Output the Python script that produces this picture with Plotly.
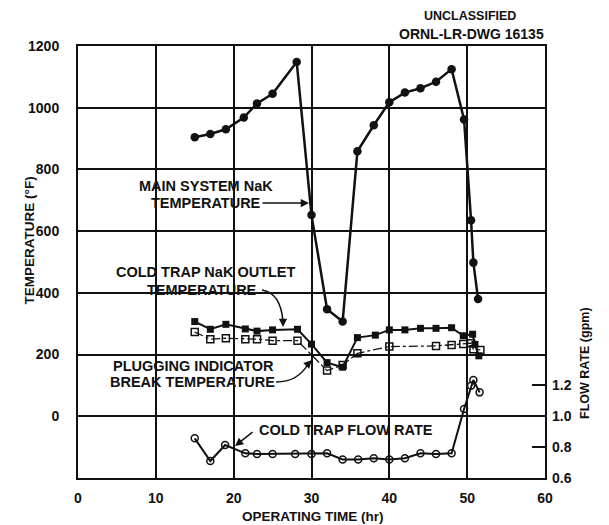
import plotly.graph_objects as go

# ---------------- data ----------------
main_t = [15, 17, 19, 21.3, 23, 25, 28.1, 30, 32, 34, 35.9, 38, 40, 42, 44, 46, 48, 49.6, 50.5, 50.8, 51.4]
main_T = [904, 915, 930, 968, 1014, 1045, 1148, 652, 347, 307, 859, 943, 1018, 1049, 1063, 1084, 1125, 962, 635, 498, 380]

outlet_t = [15, 17, 19, 21.5, 23, 25, 28.2, 30, 32, 34, 35.9, 38.2, 40, 42, 44, 46, 48, 49.5, 50.7, 51.0, 51.5]
outlet_T = [307, 282, 298, 283, 276, 280, 282, 234, 174, 159, 255, 263, 280, 280, 285, 285, 287, 261, 266, 233, 196]

plug_t = [15, 17, 19, 21.5, 23, 25, 28.2, 32, 34, 35.9, 40, 46, 48, 49.5, 50.5, 50.8, 51.7]
plug_T = [273, 250, 253, 250, 250, 245, 245, 148, 166, 204, 226, 228, 231, 234, 237, 217, 215]

flow_t = [15, 17, 18.9, 21.5, 23, 25, 27.9, 30, 32, 34, 36, 38, 40, 42, 44, 46, 48, 49.6, 50.5, 50.8, 51.6]
flow_gpm = [0.857, 0.71, 0.814, 0.76, 0.756, 0.756, 0.756, 0.756, 0.76, 0.72, 0.72, 0.728, 0.72, 0.728, 0.76, 0.756, 0.76, 1.047, 1.198, 1.235, 1.155]

x_ticks = [0, 10, 20, 30, 40, 50, 60]
y_ticks = [0, 200, 400, 600, 800, 1000, 1200]
y2_ticks = [0.6, 0.8, 1.0, 1.2]

# ---------------- layout geometry ----------------
W, H = 609, 525
L, R, T, B = 78, 545, 46, 478
XMIN, XMAX = 0, 60
YMIN, YMAX = -200, 1200


def dx(px):
    return XMIN + (px - L) / (R - L) * (XMAX - XMIN)


def dy(py):
    return YMIN + (B - py) / (B - T) * (YMAX - YMIN)


def fx(px):
    return (px - L) / (R - L)


def fy(py):
    return (B - py) / (B - T)


INK = "#111111"
FONT = "Liberation Sans"

fig = go.Figure()

fig.add_trace(go.Scatter(x=main_t, y=main_T, mode="lines+markers",
                         line=dict(color=INK, width=2.5),
                         marker=dict(symbol="circle", size=8.5, color=INK),
                         showlegend=False))
fig.add_trace(go.Scatter(x=outlet_t, y=outlet_T, mode="lines+markers",
                         line=dict(color=INK, width=2),
                         marker=dict(symbol="square", size=7, color=INK),
                         showlegend=False))
fig.add_trace(go.Scatter(x=plug_t, y=plug_T, mode="lines+markers",
                         line=dict(color=INK, width=1.3, dash="dashdot"),
                         marker=dict(symbol="square-open", size=7, color=INK,
                                     line=dict(width=1.5, color=INK)),
                         showlegend=False))
fig.add_trace(go.Scatter(x=flow_t, y=flow_gpm, yaxis="y2", mode="lines+markers",
                         line=dict(color=INK, width=2),
                         marker=dict(symbol="circle-open", size=7, color=INK,
                                     line=dict(width=1.5, color=INK)),
                         showlegend=False))

tickfont = dict(family=FONT, size=14, color=INK)

fig.update_layout(
    width=W, height=H,
    margin=dict(l=L, r=W - R, t=T, b=H - B, pad=0),
    paper_bgcolor="white", plot_bgcolor="white",
    font=dict(family=FONT, color=INK),
    hovermode=False,
    xaxis=dict(range=[XMIN, XMAX], tickvals=x_ticks, ticktext=["<b>%d</b>" % v for v in x_ticks],
               showgrid=True, gridcolor=INK, gridwidth=1.5,
               showline=True, mirror=True, linecolor=INK, linewidth=2,
               ticks="", zeroline=False, tickfont=tickfont, ticklabelstandoff=6,
               automargin=False),
    yaxis=dict(range=[YMIN, YMAX], tickvals=y_ticks, ticktext=["<b>%d</b>" % v for v in y_ticks],
               showgrid=True, gridcolor=INK, gridwidth=1.5,
               showline=True, mirror=True, linecolor=INK, linewidth=2,
               ticks="", zeroline=False, tickfont=tickfont, ticklabelstandoff=14,
               automargin=False),
    yaxis2=dict(overlaying="y", side="right",
                range=[0.6, 0.6 + (YMAX - YMIN) / 500.0],
                tickvals=y2_ticks, ticktext=["<b>0.6</b>", "<b>0.8</b>", "<b>1.0</b>", "<b>1.2</b>"],
                ticks="inside", ticklen=13, tickwidth=1.5, tickcolor=INK,
                showgrid=False, zeroline=False, showline=False,
                tickfont=tickfont, ticklabelstandoff=6, automargin=False),
)

ann = []


def label(px, py, text, xanchor="center", size=14.5):
    ann.append(dict(x=fx(px), y=fy(py), xref="paper", yref="paper", text=text,
                    showarrow=False, xanchor=xanchor, yanchor="middle",
                    font=dict(family=FONT, size=size, color=INK)))


def arrowhead(px, py, pax, pay):
    ann.append(dict(x=dx(px), y=dy(py), xref="x", yref="y",
                    ax=dx(pax), ay=dy(pay), axref="x", ayref="y",
                    text="", showarrow=True, arrowhead=2, arrowsize=1.1,
                    arrowwidth=1.5, arrowcolor=INK))


# series labels
label(206, 186, "<b>MAIN SYSTEM NaK</b>")
label(206, 203, "<b>TEMPERATURE</b>")
arrowhead(309, 203, 261, 203)

label(206, 272, "<b>COLD TRAP NaK OUTLET</b>")
label(202, 290, "<b>TEMPERATURE</b>")
label(193, 366, "<b>PLUGGING INDICATOR</b>")
label(192, 382, "<b>BREAK TEMPERATURE</b>")
label(257, 430, "<b>COLD TRAP FLOW RATE</b>", xanchor="left")
arrowhead(235, 446, 254, 431)

# header text
label(470, 16, "<b>UNCLASSIFIED</b>", size=12.5)
label(471, 34, "<b>ORNL-LR-DWG 16135</b>", size=14)

# axis titles
label(313, 516, "<b>OPERATING TIME (hr)</b>", size=13.5)
ann.append(dict(x=fx(20), y=fy(241), xref="paper", yref="paper",
                text="<b>TEMPERATURE (°F)</b>", showarrow=False, textangle=-90,
                font=dict(family=FONT, size=13.5, color=INK)))
ann.append(dict(x=fx(594), y=fy(421), xref="paper", yref="paper",
                text="<b>FLOW RATE (gpm)</b>", showarrow=False, textangle=-90,
                font=dict(family=FONT, size=12.5, color=INK)))

# curved leader lines
shapes = []


def curve(p0, c, p1):
    path = "M {},{} Q {},{} {},{}".format(dx(p0[0]), dy(p0[1]), dx(c[0]), dy(c[1]),
                                          dx(p1[0]), dy(p1[1]))
    shapes.append(dict(type="path", path=path, xref="x", yref="y",
                       line=dict(color=INK, width=1.5)))


curve((262, 290), (281, 293), (283, 322))
arrowhead(283, 327, 283, 318)
curve((276, 382), (298, 382), (308, 364))
arrowhead(312, 360, 306, 366)

fig.update_layout(shapes=shapes, annotations=ann)

fig.write_html("out.html", config={"displayModeBar": False},
               post_script="document.body.style.margin='0';document.body.style.padding='0';"
                           "document.body.style.overflow='hidden';")
